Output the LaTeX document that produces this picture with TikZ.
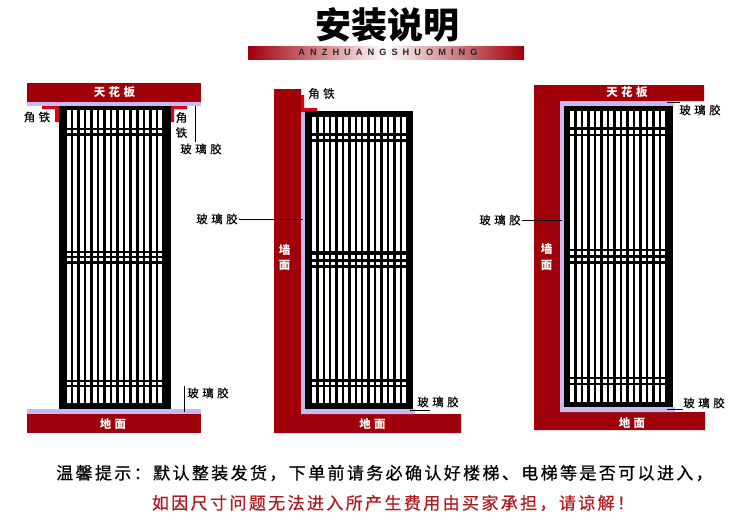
\documentclass[tikz,border=0pt]{standalone}
\usepackage{xcolor}
\usepackage{fontspec}
\usepackage{tikz}
\setmainfont{Noto Sans CJK SC}
\newfontfamily\labelfont[LetterSpace=30,FakeBold=0.25]{Noto Sans CJK SC}
\newfontfamily\whitefont[LetterSpace=30]{Noto Sans CJK SC}
\newfontfamily\noticefont[LetterSpace=14,FakeBold=0.6]{Noto Sans CJK SC}
\newfontfamily\bannerfont[LetterSpace=55]{Liberation Sans}
\definecolor{wallred}{RGB}{160,0,10}
\definecolor{ironred}{RGB}{222,0,24}
\definecolor{gluelilac}{RGB}{200,186,240}
\definecolor{noticered}{RGB}{176,24,30}

\begin{document}
\begin{tikzpicture}[
    x=1pt, y=-1pt,
    wall/.style={fill=wallred},
    glue/.style={fill=gluelilac},
    iron/.style={fill=ironred},
    leader/.style={draw=black, line width=0.8pt},
    gluelabel/.style={inner sep=1pt, align=center,
        font=\labelfont\fontsize{11.5}{15}\selectfont},
    walllabel/.style={inner sep=1pt, align=center, text=white,
        font=\whitefont\bfseries\fontsize{11.5}{15.5}\selectfont}
]
\useasboundingbox (0,0) rectangle (750,520);
% title
\shade[left color=wallred, right color=wallred, middle color=white] (248,46) rectangle (524,59);
\node[font=\bfseries\fontsize{36}{38}\selectfont] (title) at (387,25) {安装说明};
\node[text=black!85, font=\bannerfont\bfseries\fontsize{9.2}{10}\selectfont] (banner) at (388,52.5) {ANZHUANGSHUOMING};

% ceiling and floor, wall and floor, wall around
\fill[wall] (27,83) rectangle (201,102);
\fill[glue] (27,102) rectangle (201,106);
\fill[glue] (27,409) rectangle (201,414);
\fill[wall] (27,414) rectangle (201,433);
\fill[wall] (274,89) -- (301,89) -- (301,414) -- (461,414) -- (461,433) -- (274,433) -- cycle;
\fill[glue] (301,111) -- (305,111) -- (305,409) -- (415,409) -- (415,414) -- (301,414) -- cycle;
\fill[wall] (534,85) -- (704,85) -- (704,101) -- (560,101) -- (560,412) -- (705,412) -- (705,430) -- (534,430) -- cycle;
\fill[glue] (560,101) -- (674,101) -- (674,106) -- (564,106) -- (564,407) -- (675,407) -- (675,412) -- (560,412) -- cycle;

% angle irons
\fill[iron] (42,106) -- (59,106) -- (59,122) -- (55,122) -- (55,109) -- (42,109) -- cycle;
\fill[iron] (187,106) -- (171,106) -- (171,122) -- (174,122) -- (174,109) -- (187,109) -- cycle;
\fill[iron] (301,95) -- (304,95) -- (304,108) -- (317,108) -- (317,112) -- (301,112) -- cycle;

% screens
\foreach \fl/\fr/\ft/\fb/\il/\ip/\rows in {
    58.7/170.7/106/409.3/66.5/6.55/{110/128,130/133.3,135.7/250.5,252.5/255.7,258/261.3,264/379.5,381.7/384.5,387/403.3},
    305/413.3/111.3/409.3/312.2/6.41/{116.7/133,136/139.3,142/250.7,255/258.5,261.7/265,268/379.3,381.7/385,387.3/403.3},
    564.3/672.7/105.7/407.3/570.2/6.5/{110.7/127.3,130/133.5,136/249,251.3/254.7,257.7/261,264/376.7,379.3/382.7,385.3/401.7}} {
    \fill[black] (\fl,\ft) rectangle (\fr,\fb);
    \foreach \ya/\yb in \rows {
        \foreach \i in {0,...,14} {
            \fill[white] ({\il+\i*\ip},\ya) rectangle ({\il+\i*\ip+4},\yb);
        }
    }
}

% wall texts
\node[walllabel] (ceilinga) at (114.5,92) {天花板};
\node[walllabel] (floora) at (113,424) {地面};
\node[walllabel] (wallb) at (284.5,257.5) {墙\\面};
\node[walllabel] (floorb) at (372.5,424) {地面};
\node[walllabel] (ceilingc) at (627,92) {天花板};
\node[walllabel] (wallc) at (546.5,257) {墙\\面};
\node[walllabel] (floorc) at (632,423) {地面};

% angle iron texts
\node[gluelabel] (irona) at (37,117) {角铁};
\node[gluelabel] (ironb) at (181.5,125) {角\\铁};
\node[gluelabel] (ironc) at (321.5,93.5) {角铁};

% glue texts
\node[gluelabel] (gluea) at (201,149) {玻璃胶};
\node[gluelabel] (glueb) at (208,393) {玻璃胶};
\node[gluelabel] (gluec) at (217,219) {玻璃胶};
\node[gluelabel] (glued) at (438,402) {玻璃胶};
\node[gluelabel] (gluee) at (500,220) {玻璃胶};
\node[gluelabel] (gluef) at (700,110) {玻璃胶};
\node[gluelabel] (glueg) at (704,403) {玻璃胶};

\coordinate (ptopa) at (195.5,106);
\coordinate (pfloora) at (184.5,412);
\coordinate (pwallb) at (303,218);
\coordinate (pfloorb) at (410,410.5);
\coordinate (pfloorbe) at (430,410.5);
\coordinate (pwallc) at (562,220);
\coordinate (ptopc) at (667,102);
\coordinate (ptopce) at (680,102);
\coordinate (pfloorc) at (667,409.3);
\coordinate (pfloorce) at (683,409.3);

\draw[leader] (ptopa) -- (ptopa |- gluea.north);
\draw[leader] (pfloora) -- (pfloora |- glueb.north);
\draw[leader] (gluec.east) -- (gluec.east -| pwallb);
\draw[leader] (pfloorb) -- (pfloorbe);
\draw[leader] (gluee.east) -- (gluee.east -| pwallc);
\draw[leader] (ptopc) -- (ptopce);
\draw[leader] (pfloorc) -- (pfloorce);

% notice
\node[font=\noticefont\fontsize{17}{20}\selectfont] (noticea) at (384.5,473) {温馨提示^^^^ff1a默认整装发货^^^^ff0c下单前请务必确认好楼梯^^^^3001电梯等是否可以进入^^^^ff0c};
\node[text=noticered, font=\noticefont\fontsize{17}{20}\selectfont] (noticeb) at (393,503) {如因尺寸问题无法进入所产生费用由买家承担^^^^ff0c请谅解^^^^ff01};
\end{tikzpicture}
\end{document}
